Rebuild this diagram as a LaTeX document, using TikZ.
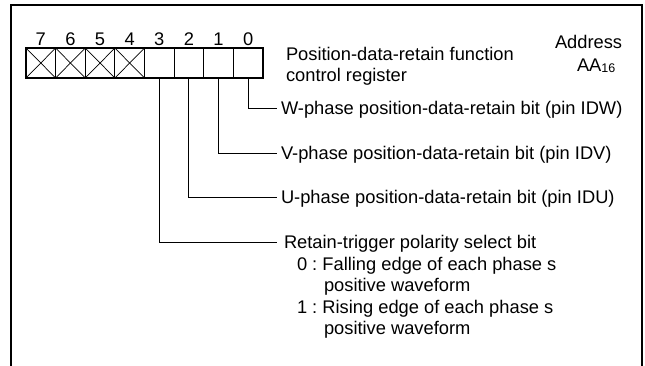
\documentclass[tikz,border=0pt]{standalone}
\usepackage{fontspec}
\setmainfont{Liberation Sans}
\frenchspacing
\begin{document}
\begin{tikzpicture}[x=1pt,y={(0pt,-1pt)},
  cell/.style={draw,line width=1.2pt,minimum width=29.625pt,minimum height=30pt,inner sep=0pt,outer sep=0pt},
  xline/.style={line width=0.7pt},
  lead/.style={line width=0.9pt},
  txt/.style={anchor=base west,inner sep=0pt,outer sep=0pt,font=\fontsize{18.3}{21.3}\selectfont},
  dig/.style={anchor=base,inner sep=0pt,font=\fontsize{18.3}{21.3}\selectfont}]
\useasboundingbox (0,0) rectangle (645,365);
% frame
\draw[line width=2pt] (10.5,366) -- (10.5,5) -- (641.5,5) -- (641.5,366);
% cells
\foreach \i/\n in {0/7,1/6,2/5,3/4,4/3,5/2,6/1,7/0}{
  \node[cell] (b\n) at ({26+(\i+0.5)*29.625},63) {};
  \node[dig] (d\n) at ({26+(\i+0.5)*29.625},45) {\n};
}
\foreach \n in {7,6,5,4}{
  \draw[xline] (b\n.north west) -- (b\n.south east);
  \draw[xline] (b\n.south west) -- (b\n.north east);
}
% title texts
\node[txt] (title1) at (286,60) {Position-data-retain function};
\node[txt] (title2) at (286,81) {control register};
\node[txt] (addr) at (555,48) {Address};
\node[txt] (aa) at (577,71) {AA{\fontsize{12.5}{12.5}\selectfont\raisebox{-1.5pt}{16}}};
% leader ends
\coordinate (eW) at (277,108);
\coordinate (eV) at (277,153);
\coordinate (eU) at (277,197);
\coordinate (eR) at (277,242);
\draw[lead] (b0.south) |- (eW);
\draw[lead] (b1.south) |- (eV);
\draw[lead] (b2.south) |- (eU);
\draw[lead] (b3.south) |- (eR);
% labels
\node[txt] (tW) at (281,114.5) {W-phase position-data-retain bit (pin IDW)};
\node[txt] (tV) at (281,159.5) {V-phase position-data-retain bit (pin IDV)};
\node[txt] (tU) at (281,203.5) {U-phase position-data-retain bit (pin IDU)};
\node[txt] (tR) at (284,248.5) {Retain-trigger polarity select bit};
\node[txt] (r0) at (297,270) {0 : Falling edge of each phase s};
\node[txt] (r0b) at (324,291.5) {positive waveform};
\node[txt] (r1) at (297,313) {1 : Rising edge of each phase s};
\node[txt] (r1b) at (324,334.5) {positive waveform};
\end{tikzpicture}
\end{document}
